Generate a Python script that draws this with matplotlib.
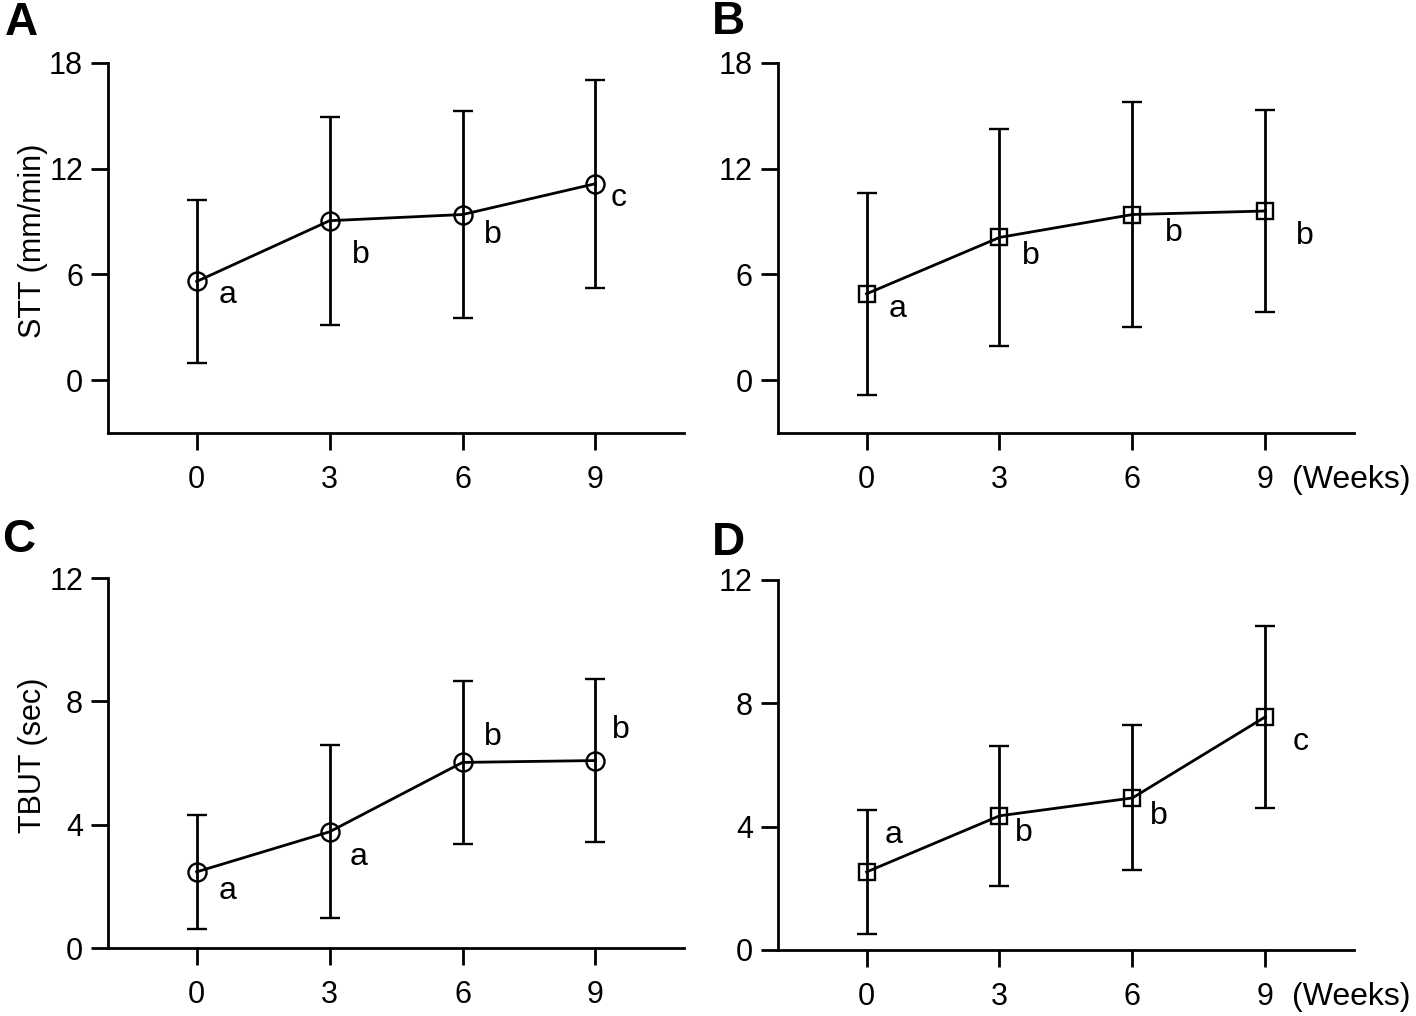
import matplotlib
matplotlib.use("Agg")
import matplotlib.pyplot as plt

plt.rcParams['font.family'] = ['Liberation Sans', 'DejaVu Sans']

weeks = [0, 3, 6, 9]
week_labels = ['0', '3', '6', '9']

# STT (mm/min)
stt_a_mean = [5.6, 9.05, 9.4, 11.15]
stt_a_sd = [4.65, 5.9, 5.9, 5.9]
stt_a_letters = ['a', 'b', 'b', 'c']

stt_b_mean = [4.9, 8.1, 9.4, 9.6]
stt_b_sd = [5.75, 6.15, 6.4, 5.75]
stt_b_letters = ['a', 'b', 'b', 'b']

# TBUT (sec)
tbut_c_mean = [2.47, 3.77, 6.02, 6.08]
tbut_c_sd = [1.84, 2.8, 2.65, 2.65]
tbut_c_letters = ['a', 'a', 'b', 'b']

tbut_d_mean = [2.53, 4.35, 4.93, 7.56]
tbut_d_sd = [2.0, 2.27, 2.35, 2.95]
tbut_d_letters = ['a', 'b', 'b', 'c']

# letter offsets in pixels (dx, dy) from each point
off_a = [(31, -14), (31, -34), (30, -20), (23, -14)]
off_b = [(31, -15), (31, -19), (41, -18), (39, -25)]
off_c = [(31, -19), (29, -25), (30, 25), (25, 31)]
off_d = [(27, 37), (24, -17), (26, -18), (35, -25)]

FS = 22
LW = 2.0

fig = plt.figure(figsize=(14.16, 10.16), dpi=100)


def panel(rect, mean, sd, letters, offs, marker, ylim, yticks, ylabel, weeks_label):
    ax = fig.add_axes(rect)
    ax.errorbar(weeks, mean, yerr=sd, fmt='-' + marker, color='black',
                mfc='none', mec='black', ms=13 if marker == 'o' else 12, mew=1.7,
                lw=LW, elinewidth=LW, capsize=7, capthick=LW, clip_on=False)
    for x, y, t, (dx, dy) in zip(weeks, mean, letters, offs):
        ax.annotate(t, xy=(x, y), xytext=(dx * 0.72, dy * 0.72),
                    textcoords='offset points', ha='center', va='center',
                    fontsize=23)
    ax.set_xlim(-2, 11)
    ax.set_ylim(*ylim)
    ax.set_xticks(weeks)
    ax.set_xticklabels(week_labels)
    ax.set_yticks(yticks)
    ax.spines['top'].set_visible(False)
    ax.spines['right'].set_visible(False)
    for s in ['left', 'bottom']:
        ax.spines[s].set_linewidth(LW)
    ax.tick_params(direction='out', length=12, width=LW, labelsize=FS)
    ax.tick_params(axis='x', pad=11)
    ax.tick_params(axis='y', pad=6)
    if ylabel:
        ax.set_ylabel(ylabel, fontsize=FS)
        ax.yaxis.set_label_coords(-0.104, 0.52)
    if weeks_label:
        ax.annotate('(Weeks)', xy=(9, 0), xycoords=('data', 'axes fraction'),
                    xytext=(19, -23), textcoords='offset points',
                    ha='left', va='top', fontsize=23)
    return ax


panel([0.0763, 0.5738, 0.4068, 0.3642], stt_a_mean, stt_a_sd, stt_a_letters, off_a,
      'o', (-3, 18), [0, 6, 12, 18], 'STT (mm/min)', False)
panel([0.5494, 0.5738, 0.4068, 0.3642], stt_b_mean, stt_b_sd, stt_b_letters, off_b,
      's', (-3, 18), [0, 6, 12, 18], None, True)
panel([0.0763, 0.0669, 0.4068, 0.3642], tbut_c_mean, tbut_c_sd, tbut_c_letters, off_c,
      'o', (0, 12), [0, 4, 8, 12], 'TBUT (sec)', False)
panel([0.5494, 0.0650, 0.4068, 0.3642], tbut_d_mean, tbut_d_sd, tbut_d_letters, off_d,
      's', (0, 12), [0, 4, 8, 12], None, True)

for lab, x, y in [('A', 21, 23), ('B', 728, 22), ('C', 19, 540), ('D', 728, 543)]:
    fig.text(x / 1416, 1 - y / 1016, lab, fontsize=33, fontweight='bold',
             ha='center', va='center')

fig.savefig('out.png', dpi=100)
